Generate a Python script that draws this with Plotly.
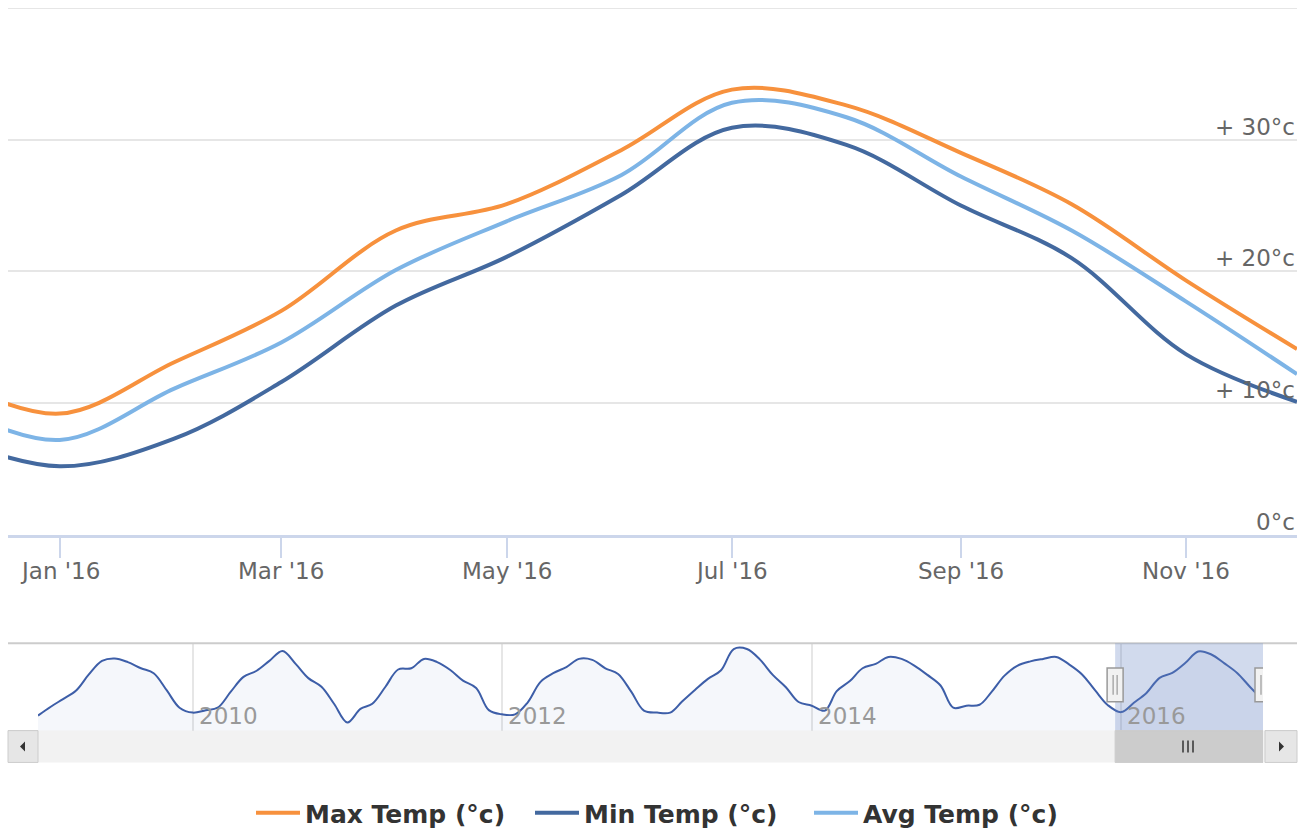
import plotly.graph_objects as go
import pandas as pd

W, H = 1307, 836

# ---------------- data ----------------
months = pd.date_range("2015-12-01", "2016-12-01", freq="MS")
max_temp = [12.0, 9.2, 13.1, 17.0, 23.1, 25.1, 29.2, 33.8, 32.6, 29.0, 25.1, 19.3, 14.1]
avg_temp = [10.0, 7.2, 11.1, 14.6, 20.1, 23.8, 27.3, 32.8, 31.7, 27.2, 23.1, 17.7, 12.2]
min_temp = [7.5, 5.2, 7.3, 11.6, 17.4, 21.1, 25.8, 30.9, 29.6, 25.0, 21.0, 13.7, 10.1]

# Max temp history shown in the navigator (Jan 2009 - Nov 2015)
nav_2009 = [7.8, 11.5, 14.5, 18.0, 24.5, 30.0, 31.0, 29.5, 27.0, 25.0, 18.0, 11.0]
nav_2010 = [9.0, 10.0, 11.0, 17.5, 23.5, 26.0, 30.0, 34.0, 28.8, 23.0, 19.5, 12.5]
nav_2011 = [5.0, 10.5, 12.6, 19.5, 26.5, 27.0, 30.8, 29.5, 26.3, 22.0, 19.0, 10.0]
nav_2012 = [8.3, 8.3, 13.0, 21.5, 25.0, 27.5, 30.8, 30.4, 27.0, 24.7, 17.5, 9.8]
nav_2013 = [9.0, 9.0, 13.5, 18.3, 22.7, 26.2, 34.8, 34.8, 30.5, 24.3, 19.3, 13.3]
nav_2014 = [11.8, 9.8, 17.7, 21.8, 27.0, 28.8, 31.6, 30.8, 28.0, 24.3, 20.0, 11.0]
nav_2015 = [11.8, 12.2, 17.3, 24.0, 28.0, 29.8, 30.8, 31.6, 28.5, 24.5, 18.0]
nav_history = nav_2009 + nav_2010 + nav_2011 + nav_2012 + nav_2013 + nav_2014 + nav_2015
nav_dates = pd.date_range("2009-01-01", "2016-12-01", freq="MS")
nav_values = nav_history + max_temp

x_tickvals = [d.strftime("%Y-%m-%d") for d in pd.date_range("2016-01-01", "2016-11-01", freq="2MS")]
x_ticktext = ["Jan '16", "Mar '16", "May '16", "Jul '16", "Sep '16", "Nov '16"]
y_tickvals = [0, 10, 20, 30, 40]
y_ticktext = ["0°c", "+ 10°c", "+ 20°c", "+ 30°c", ""]
nav_year_vals = ["2010-01-01", "2012-01-01", "2014-01-01", "2016-01-01"]
nav_year_text = ["2010", "2012", "2014", "2016"]
view_range = ["2015-12-18", "2016-12-01"]

names = ["Max Temp (°c)", "Min Temp (°c)", "Avg Temp (°c)"]
colors = ["#f7913d", "#43699f", "#7db4e6"]

FONT = "DejaVu Sans"


def px(p):
    return p / W


def py(p):
    return 1 - p / H


fig = go.Figure()

for name, vals, col in zip(names, [max_temp, min_temp, avg_temp], colors):
    fig.add_trace(go.Scatter(
        x=months, y=vals, name=name, mode="lines",
        line=dict(color=col, width=4, shape="spline", smoothing=1.0),
        hoverinfo="skip", xaxis="x", yaxis="y",
    ))

fig.add_trace(go.Scatter(
    x=nav_dates, y=nav_values, mode="lines", showlegend=False,
    line=dict(color="#3d5ea8", width=2, shape="spline", smoothing=1.0),
    fill="tozeroy", fillcolor="rgba(51,92,173,0.05)",
    hoverinfo="skip", xaxis="x2", yaxis="y2",
))

# ---------------- annotations ----------------
annotations = []
for v, t in zip(y_tickvals, y_ticktext):
    if t:
        annotations.append(dict(
            x=px(1297), xref="paper", xanchor="right",
            y=v, yref="y", yanchor="bottom", yshift=-2,
            text=t, showarrow=False,
            font=dict(family=FONT, size=23, color="#666666"),
        ))
for v, t in zip(x_tickvals, x_ticktext):
    annotations.append(dict(
        x=v, xref="x", xanchor="center",
        y=py(559), yref="paper", yanchor="top",
        text=t, showarrow=False,
        font=dict(family=FONT, size=23, color="#666666"),
    ))
for v, t in zip(nav_year_vals, nav_year_text):
    annotations.append(dict(
        x=v, xref="x2", xanchor="left", xshift=4,
        y=py(735), yref="paper", yanchor="bottom",
        text=t, showarrow=False,
        font=dict(family=FONT, size=23, color="#999999"),
    ))

# ---------------- shapes (grid top, navigator + scrollbar chrome) ----------------
shapes = []
shapes.append(dict(type="line", xref="paper", yref="y",
                   x0=px(8), x1=px(1297), y0=y_tickvals[-1], y1=y_tickvals[-1],
                   line=dict(color="#e6e6e6", width=2), layer="below"))
shapes.append(dict(type="rect", xref="paper", yref="paper",
                   x0=px(38), x1=px(1265), y0=py(767), y1=py(735),
                   fillcolor="#f2f2f2", line=dict(width=0), layer="below"))
shapes.append(dict(type="line", xref="paper", yref="paper",
                   x0=px(8), x1=px(1297), y0=py(647), y1=py(647),
                   line=dict(color="#cccccc", width=2)))
shapes.append(dict(type="rect", xref="x2", yref="paper",
                   x0=view_range[0], x1=view_range[1], y0=py(735), y1=py(647),
                   fillcolor="rgba(102,133,194,0.3)", line=dict(width=0)))
shapes.append(dict(type="rect", xref="x2", yref="paper",
                   x0=view_range[0], x1=view_range[1], y0=py(767), y1=py(735),
                   fillcolor="#cccccc", line=dict(color="#cccccc", width=1)))
for gx in (1183, 1188, 1193):
    shapes.append(dict(type="line", xref="paper", yref="paper",
                       x0=px(gx), x1=px(gx), y0=py(757), y1=py(745),
                       line=dict(color="#333333", width=1.5)))
for bx0, bx1 in ((8, 38), (1265, 1297)):
    shapes.append(dict(type="rect", xref="paper", yref="paper",
                       x0=px(bx0), x1=px(bx1), y0=py(767), y1=py(735),
                       fillcolor="#e6e6e6", line=dict(color="#cccccc", width=1)))
shapes.append(dict(type="path", xref="paper", yref="paper",
                   path=f"M {px(25)},{py(746)} L {px(25)},{py(756)} L {px(20)},{py(751)} Z",
                   fillcolor="#333333", line=dict(width=0)))
shapes.append(dict(type="path", xref="paper", yref="paper",
                   path=f"M {px(1279)},{py(746)} L {px(1279)},{py(756)} L {px(1284)},{py(751)} Z",
                   fillcolor="#333333", line=dict(width=0)))
for hx in view_range:
    shapes.append(dict(type="rect", xref="x2", yref="paper", xsizemode="pixel",
                       xanchor=hx, x0=-8, x1=8, y0=py(706), y1=py(672),
                       fillcolor="#f2f2f2", line=dict(color="#999999", width=1.5)))
    for dx in (-2, 2):
        shapes.append(dict(type="line", xref="x2", yref="paper", xsizemode="pixel",
                           xanchor=hx, x0=dx, x1=dx, y0=py(699), y1=py(679),
                           line=dict(color="#999999", width=1.2)))

fig.update_layout(
    width=W, height=H, autosize=False,
    margin=dict(l=0, r=0, t=0, b=0),
    paper_bgcolor="white", plot_bgcolor="rgba(0,0,0,0)",
    font=dict(family=FONT, color="#666666"),
    hovermode=False,
    xaxis=dict(
        domain=[px(8), px(1297)], type="date", range=view_range,
        tickvals=x_tickvals, showticklabels=False,
        ticks="outside", ticklen=20, tickwidth=2, tickcolor="#ccd6eb",
        showline=True, linecolor="#ccd6eb", linewidth=3,
        showgrid=False, zeroline=False,
        anchor="y", fixedrange=True,
    ),
    yaxis=dict(
        domain=[py(538), py(8)], range=[0, 40],
        tickvals=y_tickvals, showticklabels=False,
        showgrid=True, gridcolor="#e6e6e6", gridwidth=2,
        zeroline=False, showline=False, ticks="",
        anchor="x", fixedrange=True,
    ),
    xaxis2=dict(
        domain=[px(38), px(1263)], type="date",
        range=[nav_dates[0], nav_dates[-1]],
        tickvals=nav_year_vals, showticklabels=False, ticks="",
        showgrid=True, gridcolor="#e6e6e6", gridwidth=2,
        zeroline=False, showline=False, anchor="y2", fixedrange=True,
    ),
    yaxis2=dict(
        domain=[py(735), py(647)], range=[1.7, 37.2],
        showgrid=False, showticklabels=False, zeroline=False, ticks="",
        anchor="x2", fixedrange=True,
    ),
    legend=dict(
        orientation="h", x=0.5 + 16 / W, xanchor="center", y=py(818), yanchor="middle",
        font=dict(family=FONT, size=25, color="#333333", weight="bold"),
        bgcolor="rgba(0,0,0,0)", itemwidth=44,
        entrywidth=220, entrywidthmode="pixels",
        traceorder="normal",
    ),
    annotations=annotations,
    shapes=shapes,
)

fig.write_html(
    "out.html",
    config={"displayModeBar": False},
    post_script="document.body.style.margin='0';document.body.style.overflow='hidden';",
)
